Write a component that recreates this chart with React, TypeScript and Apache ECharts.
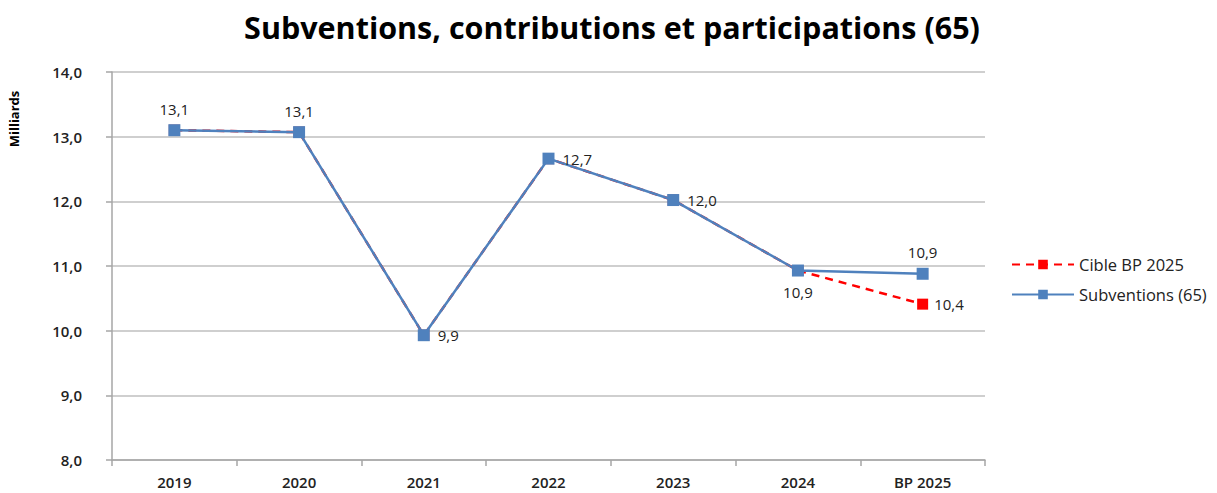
import React, { useEffect, useRef } from "react";
import * as echarts from "echarts";

const categories = ["2019", "2020", "2021", "2022", "2023", "2024", "BP 2025"];
const cibleValues = [13.1, 13.07, 9.93, 12.66, 12.02, 10.93, 10.41];
const subventionsValues = [13.1, 13.07, 9.93, 12.66, 12.02, 10.93, 10.88];

const fmt = (v: number) => v.toFixed(1).replace(".", ",");

export default function App() {
  const ref = useRef<HTMLDivElement>(null);
  useEffect(() => {
    document.body.style.margin = "0";
    const chart = echarts.init(ref.current!, null, { renderer: "svg" });
    const font = "'Open Sans', 'Liberation Sans', sans-serif";
    const bluePos = ["top", "top", "right", "right", "right", "bottom", "top"];
    const blueData = subventionsValues.map((v, i) => ({
      value: v,
      label: { position: bluePos[i] },
    }));
    const redData = cibleValues.map((v, i) => ({
      value: v,
      label: { show: i === cibleValues.length - 1, position: "right" },
    }));
    chart.setOption({
      animation: false,
      backgroundColor: "#ffffff",
      title: {
        text: "Subventions, contributions et participations (65)",
        left: 607,
        textAlign: "center",
        top: 6,
        textStyle: { fontFamily: font, fontWeight: "bold", fontSize: 30.5, color: "#000" },
      },
      legend: {
        orient: "vertical",
        left: 1006,
        top: 251,
        itemGap: 13,
        itemWidth: 62,
        itemHeight: 12,
        textStyle: { fontFamily: font, fontSize: 16.5, color: "#222" },
        data: ["Cible BP 2025", "Subventions (65)"],
      },
      graphic: [
        {
          type: "text",
          x: 14,
          y: 119,
          rotation: Math.PI / 2,
          style: {
            text: "Milliards",
            font: `bold 13px ${font}`,
            fill: "#000",
            textAlign: "center",
            textVerticalAlign: "middle",
          },
        },
      ],
      grid: { left: 112, right: 232, top: 72, bottom: 33 },
      xAxis: {
        type: "category",
        data: categories,
        boundaryGap: true,
        axisLine: { lineStyle: { color: "#a6a6a6", width: 1.5 } },
        axisTick: { show: true, length: 6, lineStyle: { color: "#a6a6a6", width: 1.5 } },
        axisLabel: { fontFamily: font, fontSize: 15, fontWeight: 600, color: "#222", margin: 14 },
      },
      yAxis: {
        type: "value",
        min: 8,
        max: 14,
        interval: 1,
        axisLine: { show: true, lineStyle: { color: "#a6a6a6", width: 1.5 } },
        axisTick: { show: true, length: 6, lineStyle: { color: "#a6a6a6", width: 1.5 } },
        splitLine: { lineStyle: { color: "#bfbfbf", width: 1.5 } },
        axisLabel: {
          fontFamily: font,
          fontSize: 15,
          fontWeight: 600,
          color: "#222",
          margin: 30,
          formatter: (v: number) => fmt(v),
        },
      },
      series: [
        {
          name: "Cible BP 2025",
          type: "line",
          data: redData,
          symbol: "rect",
          symbolSize: 11,
          itemStyle: { color: "#ff0000" },
          lineStyle: { color: "#ff0000", width: 2.5, type: [8, 6] },
          label: {
            fontFamily: font,
            fontSize: 15,
            color: "#222",
            distance: 6,
            formatter: (p: any) => fmt(p.value),
          },
          z: 2,
        },
        {
          name: "Subventions (65)",
          type: "line",
          data: blueData,
          symbol: "rect",
          symbolSize: 12,
          itemStyle: { color: "#4f81bd" },
          lineStyle: { color: "#4f81bd", width: 2.5 },
          label: {
            show: true,
            fontFamily: font,
            fontSize: 15,
            color: "#222",
            distance: 8,
            formatter: (p: any) => fmt(p.value),
          },
          z: 3,
        },
      ],
    });
    return () => chart.dispose();
  }, []);
  return <div ref={ref} style={{ width: 1217, height: 493 }} />;
}
